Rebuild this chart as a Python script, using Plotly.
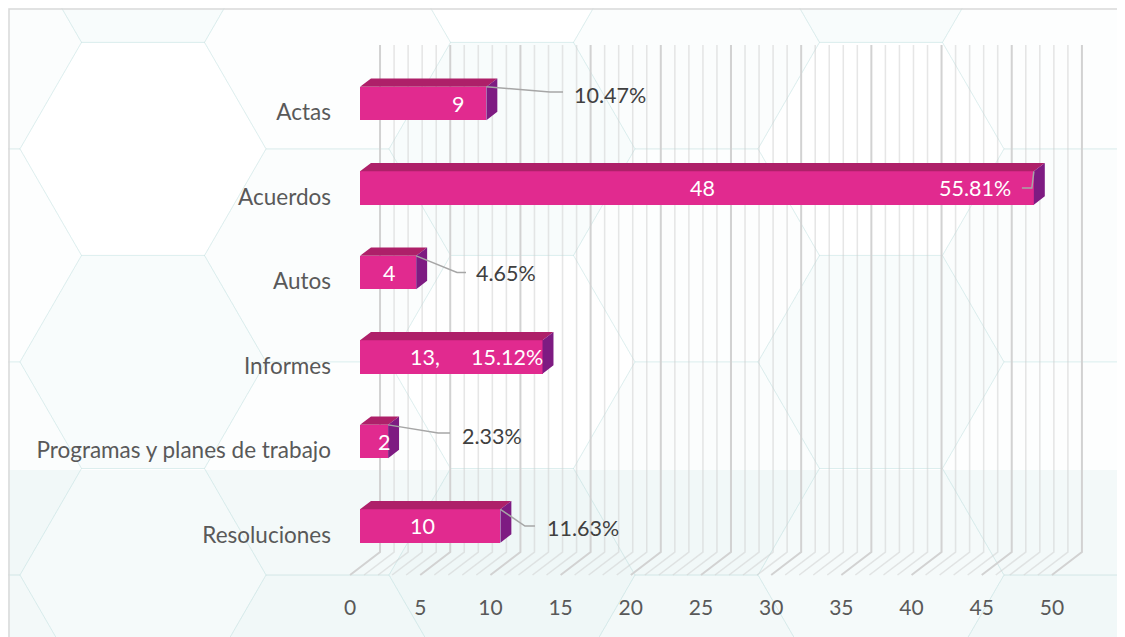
import math
import plotly.graph_objects as go

# ---------------- data ----------------
categories = ["Actas", "Acuerdos", "Autos", "Informes",
              "Programas y planes de trabajo", "Resoluciones"]
values = [9, 48, 4, 13, 2, 10]
x_ticks = [0, 5, 10, 15, 20, 25, 30, 35, 40, 45, 50]

total = sum(values)
pct_text = [f"{v / total * 100:.2f}%" for v in values]
val_text = [str(v) for v in values]
val_text[3] = f"{values[3]},"

# ---------------- layout constants (pixels / styling) ----------------
OFF = 8                      # page body margin of the html page
W, H = 1125 - OFF, 637 - OFF
ML, MR, MT, MB = 346 - OFF, 35, 40 - OFF, 52
XR = [-1, 52]
YR = [5.698, -0.7515]
FONT = "Lato"
FRONT = "#E12A8F"
TOP = "#AE2069"
SIDE = "#7E1B82"
HH = 0.197          # half height of bar front face (category units)
DX, DY = 0.78, 0.10 # 3D depth offsets (data units)

# label placement (x in data units, y in category index)
val_lab_x = [6.98, 24.43, 2.07, 4.63, 1.71, 4.42]
pct_lab = [  # (x, y, anchor, color)
    (15.10, -0.10, "left", "#404040"),
    (46.51, 1.00, "right", "white"),
    (8.12, 2.006, "left", "#404040"),
    (10.47, 3.00, "center", "white"),
    (7.12, 3.935, "left", "#404040"),
    (13.18, 5.02, "left", "#404040"),
]
leaders = {  # elbow (x,y), end x
    0: ((13.53, -0.136), 14.46),
    1: ((47.86, 1.0), 47.15),
    2: ((6.91, 2.0), 7.55),
    4: ((5.56, 3.9), 6.41),
    5: ((11.75, 5.0), 12.46),
}

fig = go.Figure()

# ---------------- bars ----------------
idx = list(range(len(categories)))
fig.add_trace(go.Bar(x=values, y=idx, orientation="h", width=2 * HH,
                     marker=dict(color=FRONT, line=dict(width=0)),
                     hoverinfo="skip", showlegend=False))

tx, ty, sx, sy = [], [], [], []
for i, v in enumerate(values):
    tx += [0, v, v + DX, DX, 0, None]
    ty += [i - HH, i - HH, i - HH - DY, i - HH - DY, i - HH, None]
    sx += [v, v + DX, v + DX, v, v, None]
    sy += [i - HH, i - HH - DY, i + HH - DY, i + HH, i - HH, None]
fig.add_trace(go.Scatter(x=tx, y=ty, mode="lines", fill="toself",
                         fillcolor=TOP, line=dict(width=0, color=TOP),
                         hoverinfo="skip", showlegend=False))
fig.add_trace(go.Scatter(x=sx, y=sy, mode="lines", fill="toself",
                         fillcolor=SIDE, line=dict(width=0, color=SIDE),
                         hoverinfo="skip", showlegend=False))

# ---------------- leader lines ----------------
lx, ly = [], []
for i, ((ex, ey), endx) in leaders.items():
    lx += [values[i], ex, endx, None]
    ly += [i - HH, ey, ey, None]
fig.add_trace(go.Scatter(x=lx, y=ly, mode="lines",
                         line=dict(color="#a6a6a6", width=1.5),
                         hoverinfo="skip", showlegend=False))

# ---------------- labels ----------------
for i, (t, x) in enumerate(zip(val_text, val_lab_x)):
    fig.add_annotation(x=x, y=i, text=t, showarrow=False, xanchor="center",
                       yanchor="middle",
                       font=dict(family=FONT, size=21.5, color="white"))
for i, (x, y, anc, col) in enumerate(pct_lab):
    fig.add_annotation(x=x, y=y, text=pct_text[i], showarrow=False,
                       xanchor=anc, yanchor="middle",
                       font=dict(family=FONT, size=21.5, color=col))

# ---------------- background decoration ----------------
PW = W - ML - MR
PH = H - MT - MB


def px2paper(px, py):
    return (px - OFF - ML) / PW, 1 - (py - OFF - MT) / PH


shapes = []
# soft teal band near the bottom
x0, y0 = px2paper(0, 470)
x1, y1 = px2paper(1125, 637)
shapes.append(dict(type="rect", xref="paper", yref="paper", x0=x0, y0=y0,
                   x1=x1, y1=y1, layer="below", line=dict(width=0),
                   fillcolor="rgba(222,238,238,0.30)"))
# honeycomb of flat-top hexagons
s = 123.0
hx0, hy0 = 143.0, 575.0
alphas = [0.0, 0.07, 0.12, 0.04]
for c in range(-2, 9):
    cx = hx0 + 1.5 * s * c
    for r in range(-3, 4):
        cy = hy0 + math.sqrt(3) * s * r - (math.sqrt(3) * s / 2 if c % 2 else 0)
        pts = []
        for k in range(6):
            a = math.radians(60 * k)
            pts.append(px2paper(cx + s * math.cos(a), cy + s * math.sin(a)))
        path = "M " + " L ".join(f"{p[0]:.4f},{p[1]:.4f}" for p in pts) + " Z"
        al = alphas[(c * 3 + r * 2) % len(alphas)]
        shapes.append(dict(type="path", xref="paper", yref="paper", path=path,
                           layer="below",
                           fillcolor=f"rgba(200,228,228,{al})",
                           line=dict(color="rgba(175,212,212,0.22)", width=1)))

# gridlines (back wall + floor) in data coordinates, behind the bars
G_TOP, G_BACK, G_FRONT = -0.6923, 5.3077, 5.5799
BX, FX = 1.425, -0.712


def grid_path(ts):
    parts = []
    for t in ts:
        parts.append(f"M {t + BX},{G_TOP} L {t + BX},{G_BACK} L {t + FX},{G_FRONT}")
    return " ".join(parts)


minor = [t for t in range(0, 51) if t % 5 != 0]
shapes.append(dict(type="path", xref="x", yref="y", path=grid_path(minor),
                   layer="below", line=dict(color="rgba(205,205,205,0.5)", width=1.5)))
shapes.append(dict(type="path", xref="x", yref="y", path=grid_path(x_ticks),
                   layer="below", line=dict(color="#d2d2d2", width=2)))

# chart border
bx0, by0 = px2paper(9, 9)
bx1, by1 = px2paper(1145, 657)
shapes.append(dict(type="rect", xref="paper", yref="paper", x0=bx0, y0=by0,
                   x1=bx1, y1=by1, layer="below",
                   line=dict(color="#d9d9d9", width=1.5),
                   fillcolor="rgba(0,0,0,0)"))

fig.update_layout(
    width=W, height=H,
    margin=dict(l=ML, r=MR, t=MT, b=MB, pad=0),
    paper_bgcolor="white", plot_bgcolor="rgba(0,0,0,0)",
    showlegend=False, bargap=0,
    shapes=shapes,
    xaxis=dict(range=XR, tickvals=x_ticks, showgrid=False, zeroline=False,
               showline=False, ticks="", ticklabelshift=-10,
               ticklabelstandoff=8,
               tickfont=dict(family=FONT, size=21, color="#595959"),
               fixedrange=True),
    yaxis=dict(range=YR, tickvals=idx, ticktext=categories, showgrid=False,
               zeroline=False, showline=False, ticks="",
               ticklabelstandoff=14, ticklabelshift=-9,
               tickfont=dict(family=FONT, size=22.5, color="#595959"),
               fixedrange=True),
)

fig.write_html("out.html")
